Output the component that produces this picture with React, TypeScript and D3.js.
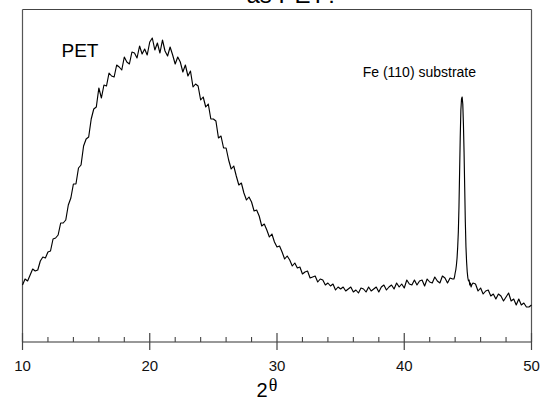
import React from "react";
import * as d3 from "d3";

// X-ray diffraction pattern, 2θ in degrees, intensity in arbitrary units
const haloStart = 10.0;
const haloStep = 0.2;
const haloIntensity = [
  57, 63, 61, 67, 73, 71, 72, 81, 85, 84,
  90, 91, 103, 104, 107, 119, 119, 122, 137, 144,
  158, 158, 174, 177, 196, 203, 205, 223, 233, 235,
  254, 244, 257, 256, 269, 266, 265, 277, 275, 272,
  285, 280, 278, 290, 289, 284, 296, 288, 293, 287,
  300, 304, 292, 299, 289, 302, 291, 286, 295, 287,
  278, 285, 280, 270, 277, 266, 271, 255, 258, 256,
  242, 245, 235, 238, 223, 223, 221, 204, 206, 194,
  194, 182, 173, 176, 166, 157, 159, 149, 142, 145,
  140, 131, 132, 126, 116, 118, 112, 105, 108, 100,
  95, 96, 90, 83, 86, 82, 76, 79, 74, 75,
  68, 70, 71, 64, 65, 66, 60, 63, 62, 57,
  59, 56, 58, 52, 55, 53, 55, 51, 53, 55,
  50, 52, 49, 54, 53, 50, 55, 51, 53, 55,
  50, 55, 57, 52, 55, 57, 53, 59, 55, 58,
  54, 62, 58, 57, 62, 57, 61, 62, 56, 63,
  60, 59, 65, 61, 59, 66, 64, 59, 64, 63,
];

const peakStart = 43.9;
const peakStep = 0.05;
const peakIntensity = [
  63, 65, 69, 72, 77, 84, 95, 110, 135, 170,
  205, 232, 243, 245, 238, 218, 190, 155, 120, 95,
  80, 70, 64, 61, 62, 57, 59, 55, 57,
];

const tailStart = 45.4;
const tailStep = 0.2;
const tailIntensity = [
  59, 58, 51, 54, 48, 51, 52, 46, 48, 43,
  48, 46, 41, 45, 49, 41, 43, 37, 43, 37,
  39, 35, 35, 37,
];

const xTicksMajor = [10, 20, 30, 40, 50];
const xTicksMinor = [12, 14, 16, 18, 22, 24, 26, 28, 32, 34, 36, 38, 42, 44, 46, 48];

const titleText = "as PET?";
const petLabel = "PET";
const feLabel = "Fe (110) substrate";

type Pt = { a: number; v: number };

function segment(start: number, step: number, vals: number[]): Pt[] {
  return vals.map((v, i) => ({ a: +(start + i * step).toFixed(3), v }));
}

const data: Pt[] = [
  ...segment(haloStart, haloStep, haloIntensity),
  ...segment(peakStart, peakStep, peakIntensity),
  ...segment(tailStart, tailStep, tailIntensity),
];

export default function App() {
  const W = 542;
  const H = 401;
  const left = 22.5;
  const right = 531.5;
  const top = 9.5;
  const axisY = 342;

  const x = d3.scaleLinear().domain([10, 50]).range([left, right]);
  const y = d3.scaleLinear().domain([0, 332]).range([axisY, 10]);

  const line = d3
    .line<Pt>()
    .x((d) => x(d.a))
    .y((d) => y(d.v));

  const sans = "'Liberation Sans', Arial, sans-serif";

  return (
    <svg
      width={W}
      height={H}
      style={{ position: "absolute", left: 0, top: 0, background: "#fff" }}
    >
      <text
        x={292.5}
        y={2.5}
        textAnchor="middle"
        fontFamily={sans}
        fontSize={24}
        fill="#000"
      >
        {titleText}
      </text>

      {/* frame */}
      <line x1={left} x2={right} y1={top} y2={top} stroke="#444" strokeWidth={1.2} />
      <line x1={left} x2={left} y1={top} y2={axisY} stroke="#555" strokeWidth={1.2} />
      <line x1={right} x2={right} y1={top} y2={axisY} stroke="#555" strokeWidth={1.2} />
      <line x1={left} x2={right} y1={axisY} y2={axisY} stroke="#333" strokeWidth={1.2} />

      {xTicksMajor.map((t) => (
        <g key={"M" + t}>
          <line x1={x(t)} x2={x(t)} y1={axisY - 9} y2={axisY + 8} stroke="#444" strokeWidth={1.2} />
          <text
            x={x(t)}
            y={371}
            textAnchor="middle"
            fontFamily={sans}
            fontSize={15}
            fill="#111"
          >
            {t}
          </text>
        </g>
      ))}
      {xTicksMinor.map((t) => (
        <line key={"m" + t} x1={x(t)} x2={x(t)} y1={axisY - 5} y2={axisY} stroke="#444" strokeWidth={1.1} />
      ))}

      <text x={256.5} y={397} fontFamily={sans} fontSize={20} fill="#000">
        2
      </text>
      <text x={268.8} y={390.5} fontFamily="'Liberation Serif', 'Times New Roman', serif" fontSize={18} fill="#000">
        θ
      </text>

      <path d={line(data) ?? ""} fill="none" stroke="#000" strokeWidth={1.15} strokeLinejoin="round" />

      <text x={61.5} y={56.5} fontFamily={sans} fontSize={19} fill="#000">
        {petLabel}
      </text>
      <text x={362.7} y={76.7} fontFamily={sans} fontSize={14} fill="#000">
        {feLabel}
      </text>
    </svg>
  );
}
